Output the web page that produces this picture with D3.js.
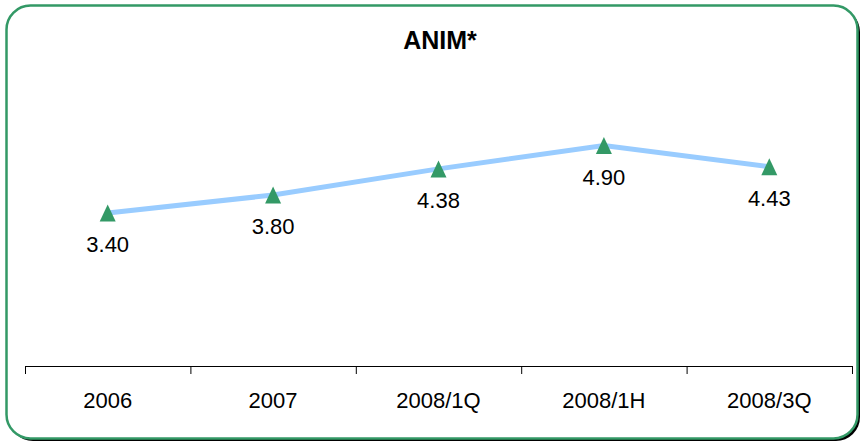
<!DOCTYPE html>
<html>
<head>
<meta charset="utf-8">
<script src="https://cdn.jsdelivr.net/npm/d3@7"></script>
<style>
  body { margin: 0; background: #fff; }
  svg { display: block; font-family: Arial, "Liberation Sans", sans-serif; }
</style>
</head>
<body>
<svg id="chart" width="862" height="443"></svg>
<script>
// chart data
var categories = ["2006", "2007", "2008/1Q", "2008/1H", "2008/3Q"];
var values = [3.40, 3.80, 4.38, 4.90, 4.43];
var labels = ["3.40", "3.80", "4.38", "4.90", "4.43"];
var title = "ANIM*";

var svg = d3.select("#chart");

// frame with shadow
svg.append("rect")
  .attr("x", 9).attr("y", 8).attr("width", 851).attr("height", 433)
  .attr("rx", 24).attr("fill", "#000");
svg.append("rect")
  .attr("x", 6.5).attr("y", 5.5).attr("width", 851).attr("height", 433)
  .attr("rx", 24).attr("fill", "#fff")
  .attr("stroke", "#339966").attr("stroke-width", 2.5);

var x = d3.scaleBand().domain(categories).range([25, 852]);
var y = d3.scaleLinear().domain([0, 6]).range([366, 96]);

// category axis
var axis = d3.axisBottom(x).tickSize(8).tickSizeOuter(8).tickFormat("");
var ax = svg.append("g").attr("transform", "translate(0,366)").call(axis);
ax.select(".domain").attr("stroke", "#000").attr("stroke-width", 1);
ax.selectAll(".tick").remove();
// ticks at band boundaries
var bounds = categories.map(function(c) { return x(c); }).concat([x.range()[1]]);
svg.append("g").selectAll("line")
  .data(bounds)
  .enter().append("line")
  .attr("x1", function(d) { return d + 0.5; })
  .attr("x2", function(d) { return d + 0.5; })
  .attr("y1", 366).attr("y2", 374)
  .attr("stroke", "#000").attr("stroke-width", 1);

svg.append("g").selectAll("text")
  .data(categories)
  .enter().append("text")
  .attr("x", function(d) { return x(d) + x.bandwidth() / 2; })
  .attr("y", 408)
  .attr("text-anchor", "middle")
  .attr("font-size", "22px")
  .attr("fill", "#000")
  .text(function(d) { return d; });

// line
var cx = function(d, i) { return x(categories[i]) + x.bandwidth() / 2; };
var line = d3.line()
  .x(function(d, i) { return cx(d, i); })
  .y(function(d) { return y(d); });
svg.append("path")
  .datum(values)
  .attr("d", line)
  .attr("fill", "none")
  .attr("stroke", "#99ccff")
  .attr("stroke-width", 5);

// triangle markers
svg.append("g").selectAll("path")
  .data(values)
  .enter().append("path")
  .attr("d", function(d, i) {
    var px = cx(d, i), py = y(d);
    return "M" + px + "," + (py - 8.5) + "L" + (px + 8) + "," + (py + 8.5) + "L" + (px - 8) + "," + (py + 8.5) + "Z";
  })
  .attr("fill", "#339966");

// value labels
svg.append("g").selectAll("text")
  .data(values)
  .enter().append("text")
  .attr("x", function(d, i) { return cx(d, i); })
  .attr("y", function(d) { return y(d) + 39; })
  .attr("text-anchor", "middle")
  .attr("font-size", "22px")
  .attr("fill", "#000")
  .text(function(d, i) { return labels[i]; });

// title
svg.append("text")
  .attr("x", 440).attr("y", 49)
  .attr("text-anchor", "middle")
  .attr("font-size", "25px")
  .attr("font-weight", "bold")
  .attr("fill", "#000")
  .text(title);
</script>
</body>
</html>
